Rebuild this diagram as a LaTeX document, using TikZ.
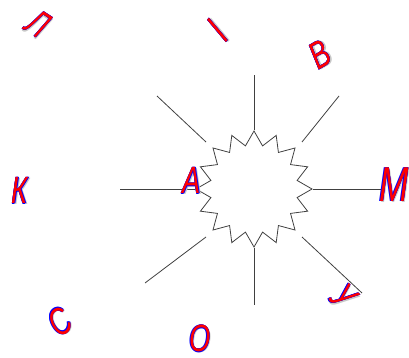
\documentclass[tikz,border=0pt]{standalone}
\usepackage{fontspec}
\setmainfont{Liberation Sans}
\newfontfamily\ltrfont[FakeStretch=0.72]{Liberation Sans}
\usetikzlibrary{shapes.geometric}

% letter drawn red, with a blue rim and a grey shadow
\newcommand{\fancyletter}[1]{%
  \rlap{\hspace{1.3pt}\raisebox{-1.3pt}{\textcolor{black!22}{#1}}}%
  \rlap{\hspace{-0.4pt}\textcolor{blue}{#1}}%
  \rlap{\hspace{0.4pt}\textcolor{blue}{#1}}%
  \rlap{\raisebox{0.4pt}{\textcolor{blue}{#1}}}%
  \rlap{\raisebox{-0.4pt}{\textcolor{blue}{#1}}}%
  \textcolor{red}{#1}}

\begin{document}
\begin{tikzpicture}[x=1pt,y=-1pt,
  letter/.style={font=\ltrfont\itshape\fontsize{38}{40}\selectfont, inner sep=0pt},
  ray/.style={draw=black!75, line width=0.8pt}
]
\useasboundingbox (0,0) rectangle (409,358);

\node[star, star points=16, star point ratio=1.32, minimum size=116pt,
  draw=black!75, line width=0.8pt, inner sep=0pt] (hub) at (254,189) {};

% free ends of the rays
\coordinate (n end) at (254,75);
\coordinate (s end) at (254,305);
\coordinate (w end) at (120,189);
\coordinate (e end) at (385,189);
\coordinate (nw in) at (206,142);
\coordinate (nw out) at (157,96);
\coordinate (ne in) at (302,142);
\coordinate (ne out) at (339,96);
\coordinate (sw in) at (206,237);
\coordinate (sw out) at (145,283);
\coordinate (se in) at (302,237);
\coordinate (se out) at (362,293);

\draw[ray] (hub.outer point 1) -- (n end);
\draw[ray] (hub.outer point 9) -- (s end);
\draw[ray] (hub.outer point 5) -- (w end);
\draw[ray] (hub.outer point 13) -- (e end);
\draw[ray] (nw in) -- (nw out);
\draw[ray] (ne in) -- (ne out);
\draw[ray] (sw in) -- (sw out);
\draw[ray] (se in) -- (se out);

\node[letter, rotate=-33] (el) at (38,24) {\fancyletter{Л}};
\node[letter, rotate=48, font=\ltrfont\itshape\fontsize{42}{44}\selectfont] (i) at (218,31) {\fancyletter{І}};
\node[letter, rotate=30] (ve) at (320,55) {\fancyletter{В}};
\node[letter, font=\ltrfont\itshape\fontsize{49}{51}\selectfont] (em) at (394,185) {\fancyletter{М}};
\node[letter, rotate=-45] (u) at (343,297) {\fancyletter{У}};
\node[letter] (o) at (200,339) {\fancyletter{О}};
\node[letter, rotate=35] (es) at (60,322) {\fancyletter{С}};
\node[letter] (ka) at (20,191) {\fancyletter{К}};
\node[letter] (a) at (192,181) {\fancyletter{А}};
\end{tikzpicture}
\end{document}
